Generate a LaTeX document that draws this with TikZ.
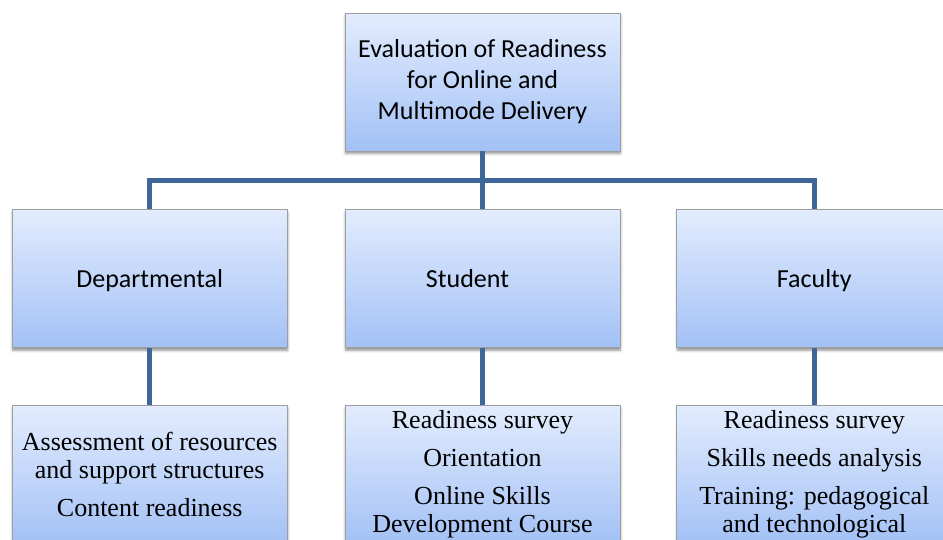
\documentclass[tikz,border=0pt]{standalone}
\usepackage{fontspec}
\setmainfont{Liberation Serif}
\newfontfamily\calibri{Carlito}
\usetikzlibrary{positioning, shadows.blur}
\definecolor{boxtop}{RGB}{226,236,253}
\definecolor{boxbottom}{RGB}{163,193,246}
\definecolor{boxedge}{RGB}{158,158,158}
\definecolor{linkblue}{RGB}{63,102,153}

\begin{document}
\begin{tikzpicture}[
    x=1pt, y=1pt,
    node distance=57pt,
    box/.style={rectangle, draw=boxedge, line width=0.8pt, top color=boxtop, bottom color=boxbottom, minimum width=275pt, minimum height=138pt, inner sep=0pt, align=center, blur shadow={shadow xshift=0.5pt, shadow yshift=-2.5pt, shadow blur radius=2.5pt, shadow opacity=45}},
    topbox/.style={box, font=\calibri\fontsize{26}{31}\selectfont},
    groupbox/.style={box, font=\calibri\fontsize{26}{31}\selectfont, text height=21pt, text depth=3pt},
    listbox/.style={box, font=\fontsize{26}{28}\selectfont},
    link/.style={draw=linkblue, line width=5.5pt, line join=miter}
]
\useasboundingbox (0,0) rectangle (943,-539);

% Root node
\node[topbox] (root) at (482.5,-82) {Evaluation of Readiness\\for Online and\\Multimode Delivery};

% Groups
\node[groupbox, below=58pt of root] (student) {Student\hspace*{30pt}};
\node[groupbox, left=57pt of student] (dept) {Departmental};
\node[groupbox, right=56pt of student] (faculty) {Faculty};

% Lists under each group
\node[listbox, below=57pt of dept] (deptlist) {Assessment of resources\\and support structures\\[10pt]Content readiness};
\node[listbox, below=57pt of student] (studentlist) {Readiness survey\\[10pt]Orientation\\[10pt]Online Skills\\Development Course};
\node[listbox, below=57pt of faculty] (facultylist) {Readiness survey\\[10pt]Skills needs analysis\\[10pt]Training: pedagogical\\and technological};

% Connectors
\draw[link] (root.south) -- ++(0,-29) -| (dept.north);
\draw[link] (root.south) -- ++(0,-29) -| (faculty.north);
\draw[link] (root.south) -- (student.north);
\draw[link] (dept.south) -- (deptlist.north);
\draw[link] (student.south) -- (studentlist.north);
\draw[link] (faculty.south) -- (facultylist.north);

\end{tikzpicture}
\end{document}
